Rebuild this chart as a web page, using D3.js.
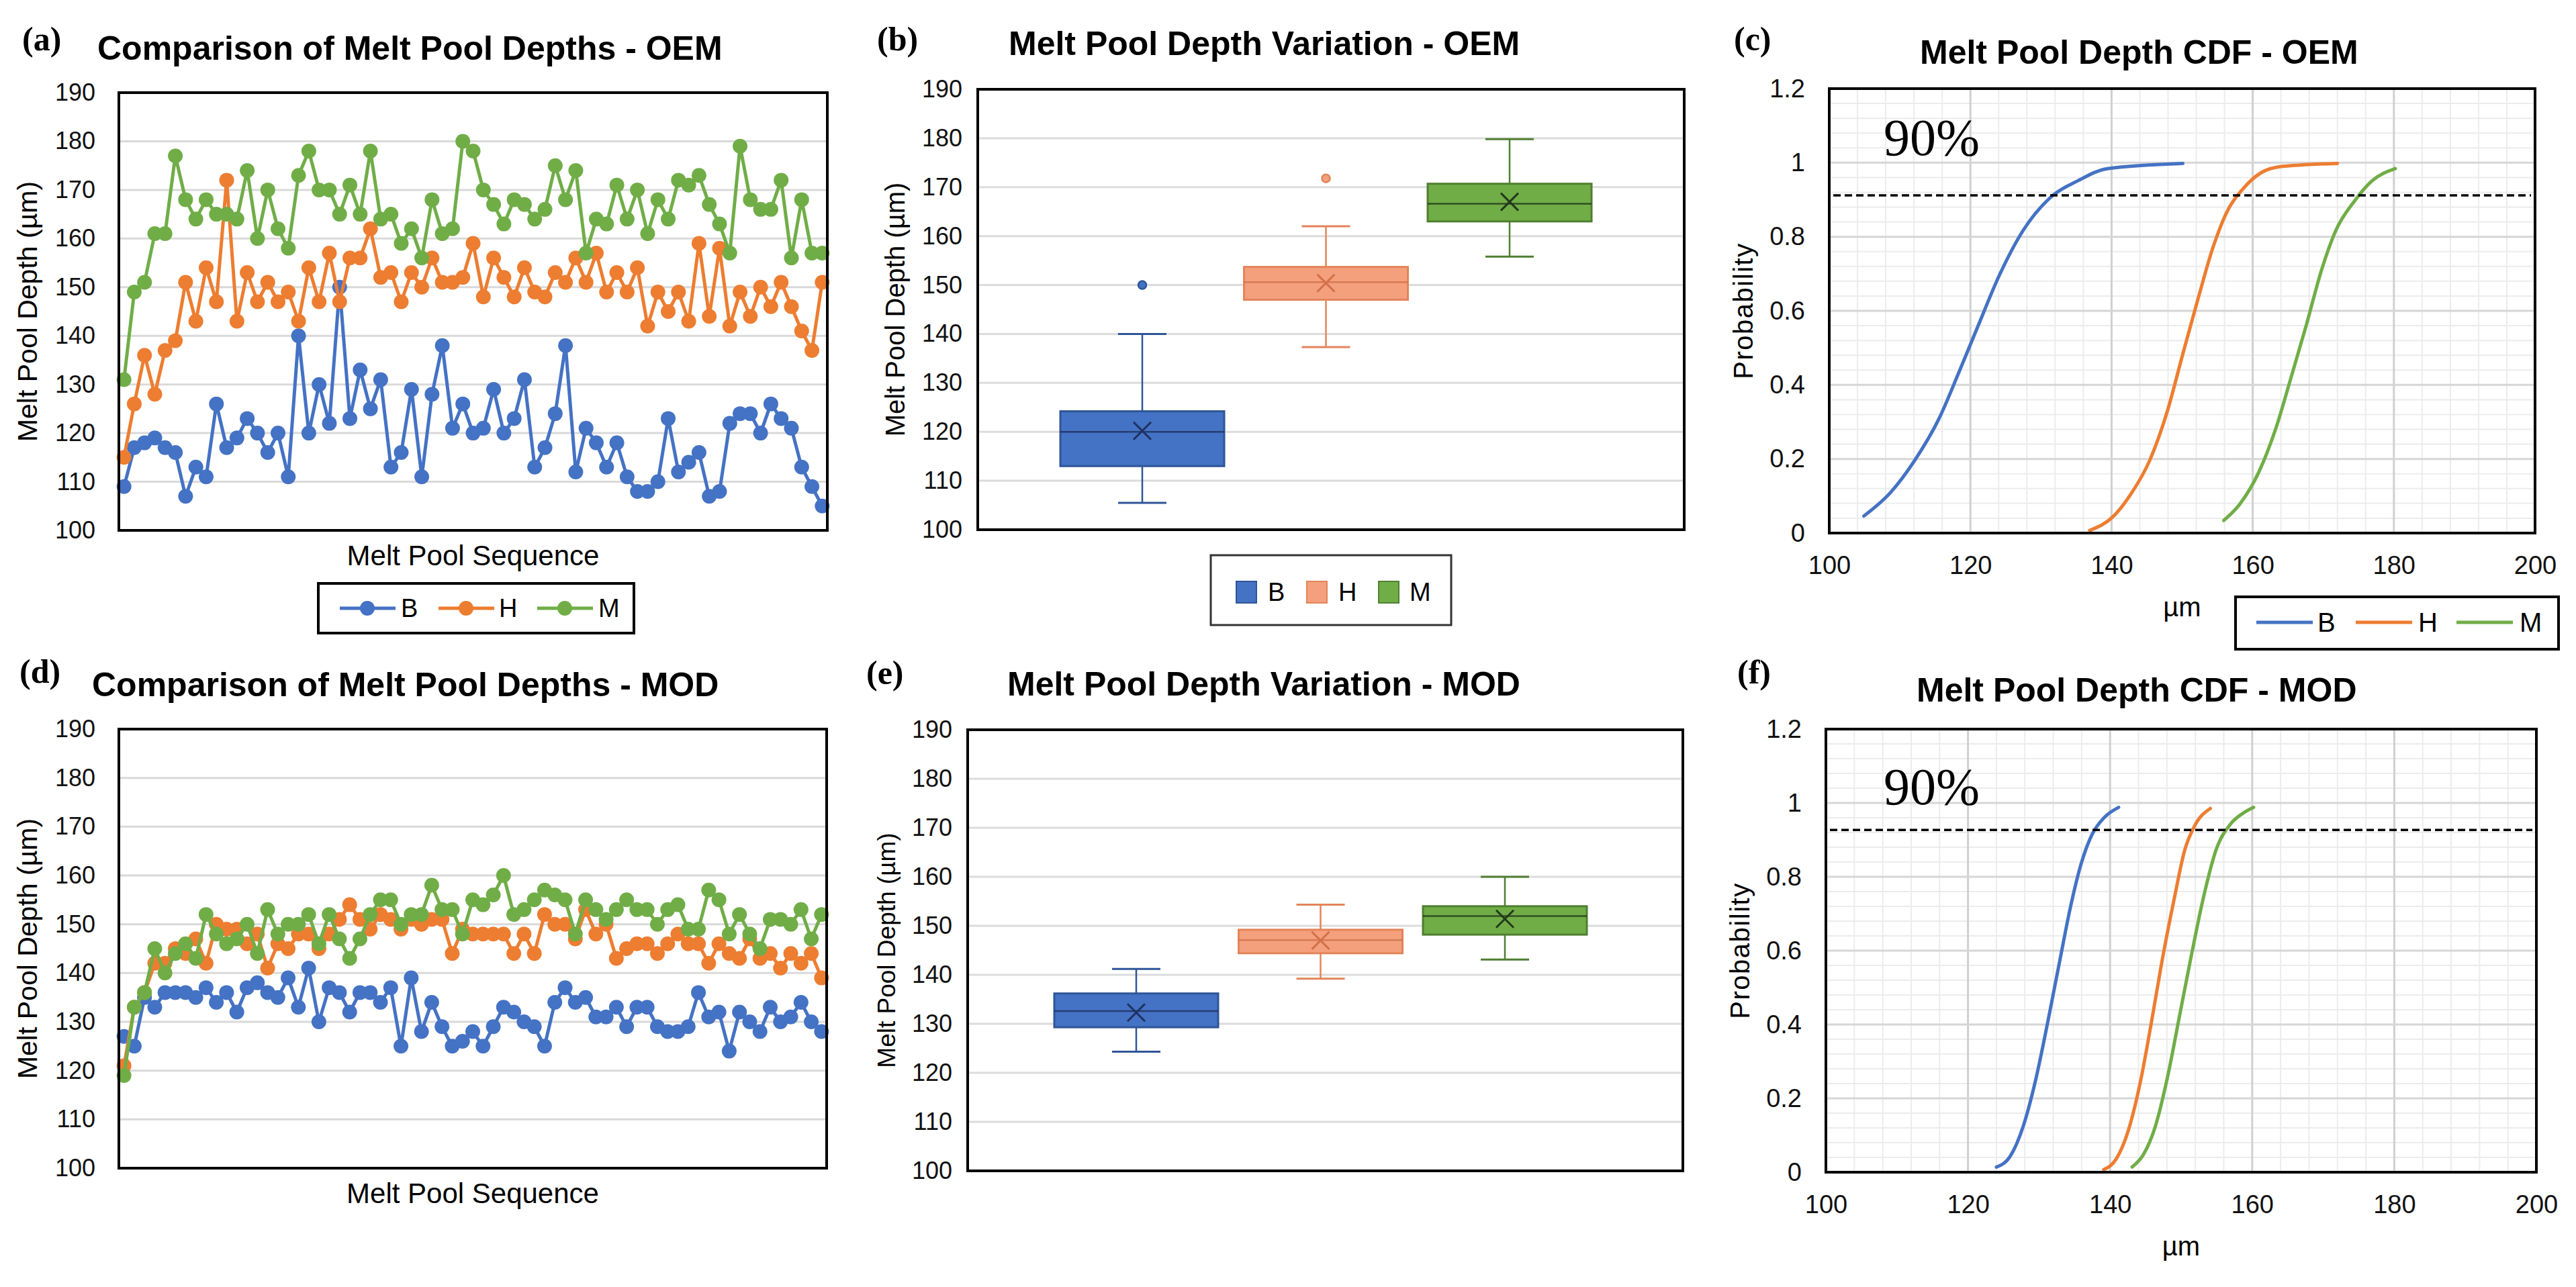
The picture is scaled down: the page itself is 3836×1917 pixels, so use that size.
<!DOCTYPE html>
<html><head><meta charset="utf-8">
<script src="https://cdn.jsdelivr.net/npm/d3@7"></script>
<style>body{margin:0;background:#fff}svg{display:block}</style>
</head><body><script>
// ---------------- DATA ----------------
const seriesNames = ["B", "H", "M"];
const depthTicks = [100, 110, 120, 130, 140, 150, 160, 170, 180, 190];
const cdfXTicks = [100, 120, 140, 160, 180, 200];
const cdfYTicks = [0, 0.2, 0.4, 0.6, 0.8, 1, 1.2];
const seqIndex = d3.range(69); // melt pool sequence positions (categories)

// (a) OEM melt pool depths
const oemB = [109,117,118,119,117,116,107,113,111,126,117,119,123,120,116,120,111,140,120,130,122,150,123,133,125,131,113,116,129,111,128,138,121,126,120,121,129,120,123,131,113,117,124,138,112,121,118,113,118,111,108,108,110,123,112,114,116,107,108,122,124,124,120,126,123,121,113,109,105];
const oemH = [115,126,136,128,137,139,151,143,154,147,172,143,153,147,151,147,149,143,154,147,157,147,156,156,162,152,153,147,153,150,156,151,151,152,159,148,156,152,148,154,149,148,153,151,156,151,157,149,153,149,154,142,149,145,149,143,159,144,158,142,149,144,150,146,151,146,141,137,151];
const oemM = [131,149,151,161,161,177,168,164,168,165,165,164,174,160,170,162,158,173,178,170,170,165,171,165,178,164,165,159,162,156,168,161,162,180,178,170,167,163,168,167,164,166,175,168,174,157,164,163,171,164,170,161,168,164,172,171,173,167,163,157,179,168,166,166,172,156,168,157,157];

// (d) MOD melt pool depths
const modB = [127,125,135,133,136,136,136,135,137,134,136,132,137,138,136,135,139,133,141,130,137,136,132,136,136,134,137,125,139,128,134,129,125,126,128,125,129,133,132,130,129,125,134,137,134,135,131,131,133,129,133,133,129,128,128,129,136,131,132,124,132,130,128,133,130,131,134,130,128];
const modH = [121,133,136,142,142,145,144,147,142,150,149,149,146,148,141,146,145,148,148,145,148,151,154,151,149,152,151,149,151,150,151,151,144,149,148,148,148,148,144,148,144,152,150,150,147,153,148,150,143,145,146,146,144,146,148,146,146,142,146,144,143,147,143,144,141,144,142,144,139];
const modM = [119,133,136,145,140,144,146,143,152,148,146,147,150,144,153,148,150,150,152,146,152,147,143,147,152,155,155,150,152,152,158,153,153,148,155,154,156,160,152,153,155,157,156,155,148,155,153,151,153,155,153,153,150,153,154,149,149,157,155,148,152,148,145,151,151,150,153,147,152];

// (b) OEM box statistics  [B, H, M]
const oemQ1 = [113, 147, 163];
const oemMedian = [120, 150.6, 166.6];
const oemQ3 = [124.2, 153.7, 170.7];
const oemMean = [120.2, 150.4, 167];
const oemLow = [105.5, 137.3, 155.8];
const oemHigh = [140, 162, 179.8];
const oemOutliers = [[150], [171.8], []];

// (e) MOD box statistics  [B, H, M]
const modQ1 = [129.3, 144.4, 148.2];
const modMedian = [132.6, 147.1, 152];
const modQ3 = [136.2, 149.2, 154];
const modMean = [132.3, 147, 151.4];
const modLow = [124.3, 139.2, 143.1];
const modHigh = [141.2, 154.3, 160];
const modOutliers = [[], [], []];

// (c) OEM CDF curves [depth µm, probability]
const cdfOemB = [[104.9,0.046],[108.7,0.11],[112.1,0.196],[115.5,0.307],[118.5,0.44],[121.1,0.56],[124.1,0.696],[127.5,0.818],[131.7,0.912],[135.2,0.951],[139.4,0.984],[150.1,0.998]];
const cdfOemH = [[136.9,0.007],[140.3,0.046],[142.8,0.107],[145.4,0.196],[147.9,0.329],[150.1,0.484],[152.2,0.629],[154.4,0.773],[156.5,0.873],[158.6,0.929],[161.2,0.973],[164.2,0.99],[172.0,0.998]];
const cdfOemM = [[155.9,0.034],[158.2,0.079],[160.8,0.162],[163.3,0.284],[165.4,0.418],[167.6,0.562],[169.7,0.707],[171.8,0.818],[174.4,0.896],[176.9,0.951],[180.2,0.984]];
// (f) MOD CDF curves
const cdfModB = [[124.0,0.014],[125.9,0.042],[127.8,0.126],[129.5,0.248],[131.2,0.404],[132.9,0.571],[134.4,0.716],[135.8,0.827],[137.5,0.916],[139.2,0.961],[141.2,0.988]];
const cdfModH = [[139.1,0.007],[140.9,0.037],[142.6,0.115],[144.3,0.248],[145.8,0.404],[147.3,0.571],[149.0,0.738],[150.5,0.872],[151.9,0.938],[154.1,0.985]];
const cdfModM = [[143.1,0.014],[144.7,0.048],[146.4,0.126],[148.1,0.259],[149.8,0.426],[151.5,0.593],[153.2,0.749],[154.9,0.872],[157.0,0.944],[158.7,0.972],[160.2,0.988]];
// 90% guide line levels as drawn
const guideOem = 0.912;
const guideMod = 0.927;

// ---------------- STYLE / LAYOUT ----------------
const W = 3836, H = 1917;
const FONT = "'Liberation Sans', Arial, sans-serif";
const SERIF = "'Liberation Serif', 'Times New Roman', serif";
const lineColors = ["#4472C4", "#ED7D31", "#70AD47"];
const boxFill = ["#4472C4", "#F4A07D", "#70AD47"];
const boxStroke = ["#2F5597", "#E3845A", "#4F7F31"];
const meanColor = ["#1F3060", "#D2714A", "#22381A"];

const svg = d3.select("body").append("svg").attr("width", W).attr("height", H)
  .style("background", "#fff");

const defs = svg.append("defs");
defs.append("filter").attr("id", "blur").attr("x", "-5%").attr("y", "-200%").attr("width", "110%").attr("height", "500%")
  .append("feGaussianBlur").attr("stdDeviation", 5);

function txt(x, y, s, size, o = {}) {
  return svg.append("text").attr("x", x).attr("y", y).text(s)
    .attr("font-family", o.family || FONT).attr("font-size", size)
    .attr("font-weight", o.weight || "normal").attr("text-anchor", o.anchor || "start")
    .attr("fill", o.fill || "#000").attr("letter-spacing", o.ls || 0);
}
function vtxt(cx, cy, s, size, o = {}) {
  return svg.append("text").attr("transform", `translate(${cx},${cy}) rotate(-90)`)
    .attr("text-anchor", "middle").attr("dominant-baseline", "central").text(s)
    .attr("font-family", FONT).attr("font-size", size).attr("fill", "#000")
    .attr("letter-spacing", o.ls || 0);
}
function frame(p, w) {
  svg.append("rect").attr("x", p.x0).attr("y", p.y0).attr("width", p.x1 - p.x0).attr("height", p.y1 - p.y0)
    .attr("fill", "none").attr("stroke", "#000").attr("stroke-width", w || 4);
}
function leftAxis(g, scale, ticks, xpos, size, fmt) {
  const ax = g.append("g").attr("transform", `translate(${xpos},0)`)
    .call(d3.axisLeft(scale).tickValues(ticks).tickSize(0).tickPadding(0).tickFormat(fmt || (d => d)));
  ax.select(".domain").remove();
  ax.selectAll("text").attr("font-size", size).attr("font-family", FONT).attr("fill", "#111");
}

// ---------------- LINE CHARTS (a), (d) ----------------
function drawLineChart(p, vals) {
  const g = svg.append("g");
  const x = d3.scalePoint().domain(seqIndex).range([p.x0, p.x1]).padding(0.5);
  const y = d3.scaleLinear().domain([100, 190]).range([p.y1, p.y0]);
  g.selectAll(null).data(depthTicks.filter(v => v > 100 && v < 190)).join("line")
    .attr("x1", p.x0).attr("x2", p.x1).attr("y1", d => y(d)).attr("y2", d => y(d))
    .attr("stroke", "#D9D9D9").attr("stroke-width", 3);
  leftAxis(g, y, depthTicks, p.x0 - 35, 36);
  vals.forEach((arr, k) => {
    g.append("path").datum(arr)
      .attr("d", d3.line().x((d, i) => x(seqIndex[i])).y(d => y(d)))
      .attr("fill", "none").attr("stroke", lineColors[k]).attr("stroke-width", 5).attr("stroke-linejoin", "round");
    g.selectAll(null).data(arr).join("circle")
      .attr("cx", (d, i) => x(seqIndex[i])).attr("cy", d => y(d)).attr("r", 11).attr("fill", lineColors[k]);
  });
  frame(p, 4);
  vtxt(41, (p.y0 + p.y1) / 2, "Melt Pool Depth (µm)", 41);
  txt((p.x0 + p.x1) / 2, p.y1 + 52, "Melt Pool Sequence", 42, { anchor: "middle" });
}

const PA = { x0: 177, x1: 1232, y0: 138, y1: 790 };
const PD = { x0: 177, x1: 1231, y0: 1086, y1: 1740 };
drawLineChart(PA, [oemB, oemH, oemM]);
drawLineChart(PD, [modB, modH, modM]);

// legend (a)
svg.append("rect").attr("x", 474).attr("y", 869).attr("width", 470).attr("height", 74)
  .attr("fill", "#fff").attr("stroke", "#000").attr("stroke-width", 4);
[[506, 597], [653, 743], [800, 891]].forEach((pos, k) => {
  svg.append("line").attr("x1", pos[0]).attr("x2", pos[0] + 83).attr("y1", 906).attr("y2", 906)
    .attr("stroke", lineColors[k]).attr("stroke-width", 5);
  svg.append("circle").attr("cx", pos[0] + 41).attr("cy", 906).attr("r", 11).attr("fill", lineColors[k]);
  txt(pos[1], 919, seriesNames[k], 38);
});

// ---------------- BOX PLOTS (b), (e) ----------------
function drawBox(p, st) {
  const g = svg.append("g");
  const y = d3.scaleLinear().domain([100, 190]).range([p.y1, p.y0]);
  const x = d3.scalePoint().domain(seriesNames).range([p.c0, p.c1]);
  const bw = 244, cap = 36, mx = 13;
  g.selectAll(null).data(depthTicks.filter(v => v > 100 && v < 190)).join("line")
    .attr("x1", p.x0).attr("x2", p.x1).attr("y1", d => y(d)).attr("y2", d => y(d))
    .attr("stroke", "#DCDCDC").attr("stroke-width", 3);
  leftAxis(g, y, depthTicks, p.x0 - 23, 36);
  seriesNames.forEach((s, k) => {
    const cx = x(s);
    [[st.lo[k], st.q1[k]], [st.q3[k], st.hi[k]]].forEach(([a, b]) => {
      g.append("line").attr("x1", cx).attr("x2", cx).attr("y1", y(a)).attr("y2", y(b))
        .attr("stroke", boxStroke[k]).attr("stroke-width", 2.5);
    });
    [st.lo[k], st.hi[k]].forEach(v => {
      g.append("line").attr("x1", cx - cap).attr("x2", cx + cap).attr("y1", y(v)).attr("y2", y(v))
        .attr("stroke", boxStroke[k]).attr("stroke-width", 3);
    });
    g.append("rect").attr("x", cx - bw / 2).attr("y", y(st.q3[k])).attr("width", bw)
      .attr("height", y(st.q1[k]) - y(st.q3[k])).attr("fill", boxFill[k])
      .attr("stroke", boxStroke[k]).attr("stroke-width", 3);
    g.append("line").attr("x1", cx - bw / 2).attr("x2", cx + bw / 2)
      .attr("y1", y(st.med[k])).attr("y2", y(st.med[k])).attr("stroke", meanColor[k]).attr("stroke-width", 2.5)
      .attr("opacity", 0.8);
    const my = y(st.mean[k]);
    g.append("path").attr("d", `M${cx - mx},${my - mx}L${cx + mx},${my + mx}M${cx - mx},${my + mx}L${cx + mx},${my - mx}`)
      .attr("stroke", meanColor[k]).attr("stroke-width", 3).attr("fill", "none");
    g.selectAll(null).data(st.out[k]).join("circle").attr("cx", cx).attr("cy", d => y(d)).attr("r", 6)
      .attr("fill", boxFill[k]).attr("stroke", boxStroke[k]).attr("stroke-width", 2.5);
  });
  frame(p, 4);
}
const PB = { x0: 1456, x1: 2508, y0: 133, y1: 789, c0: 1701, c1: 2248 };
const PE = { x0: 1441, x1: 2506, y0: 1087, y1: 1744, c0: 1692, c1: 2241 };
drawBox(PB, { q1: oemQ1, med: oemMedian, q3: oemQ3, mean: oemMean, lo: oemLow, hi: oemHigh, out: oemOutliers });
drawBox(PE, { q1: modQ1, med: modMedian, q3: modQ3, mean: modMean, lo: modLow, hi: modHigh, out: modOutliers });
vtxt(1333, (PB.y0 + PB.y1) / 2, "Melt Pool Depth (µm)", 40);
vtxt(1320, (PE.y0 + PE.y1) / 2, "Melt Pool Depth (µm)", 37);

// legend (b)
svg.append("rect").attr("x", 1803).attr("y", 827).attr("width", 358).attr("height", 104)
  .attr("fill", "#fff").attr("stroke", "#333").attr("stroke-width", 3);
[[1841, 1888], [1946, 1993], [2053, 2099]].forEach((pos, k) => {
  svg.append("rect").attr("x", pos[0]).attr("y", 866).attr("width", 30).attr("height", 32)
    .attr("fill", boxFill[k]).attr("stroke", boxStroke[k]).attr("stroke-width", 2);
  txt(pos[1], 895, seriesNames[k], 38);
});

// ---------------- CDF CHARTS (c), (f) ----------------
function drawCdf(p, curves, guide, labelLift) {
  const g = svg.append("g");
  const x = d3.scaleLinear().domain([100, 200]).range([p.x0, p.x1]);
  const y = d3.scaleLinear().domain([0, 1.2]).range([p.y1, p.y0]);
  const minorX = d3.range(104, 200, 4).filter(v => v % 20 !== 0);
  const minorY = d3.range(1, 30).map(i => i * 0.04).filter(v => Math.abs(v / 0.2 - Math.round(v / 0.2)) > 1e-6);
  g.selectAll(null).data(minorX).join("line").attr("x1", d => x(d)).attr("x2", d => x(d))
    .attr("y1", p.y0).attr("y2", p.y1).attr("stroke", "#ECECEC").attr("stroke-width", 2);
  g.selectAll(null).data(minorY).join("line").attr("y1", d => y(d)).attr("y2", d => y(d))
    .attr("x1", p.x0).attr("x2", p.x1).attr("stroke", "#ECECEC").attr("stroke-width", 2);
  g.selectAll(null).data(cdfXTicks.slice(1, -1)).join("line").attr("x1", d => x(d)).attr("x2", d => x(d))
    .attr("y1", p.y0).attr("y2", p.y1).attr("stroke", "#D0D0D0").attr("stroke-width", 3);
  g.selectAll(null).data(cdfYTicks.slice(1, -1)).join("line").attr("y1", d => y(d)).attr("y2", d => y(d))
    .attr("x1", p.x0).attr("x2", p.x1).attr("stroke", "#D6D6D6").attr("stroke-width", 3);
  leftAxis(g, y, cdfYTicks, p.x0 - 36, 38, d => String(+d.toFixed(1)));
  const xa = g.append("g").attr("transform", `translate(0,${p.y1 + 50})`)
    .call(d3.axisBottom(x).tickValues(cdfXTicks).tickSize(0).tickPadding(0));
  xa.select(".domain").remove();
  xa.selectAll("text").attr("font-size", 38).attr("font-family", FONT).attr("fill", "#111").attr("dy", "0.3em");
  curves.forEach((c, k) => {
    g.append("path").datum(c).attr("d", d3.line().x(d => x(d[0])).y(d => y(d[1])).curve(d3.curveMonotoneX))
      .attr("fill", "none").attr("stroke", lineColors[k]).attr("stroke-width", 5).attr("stroke-linecap", "round");
  });
  g.append("line").attr("x1", p.x0 + 6).attr("x2", p.x1 - 6).attr("y1", y(guide) + 12).attr("y2", y(guide) + 12)
    .attr("stroke", "#9a9a9a").attr("stroke-width", 14).attr("opacity", 0.35).attr("filter", "url(#blur)");
  g.append("line").attr("x1", p.x0 + 6).attr("x2", p.x1 - 6).attr("y1", y(guide)).attr("y2", y(guide))
    .attr("stroke", "#000").attr("stroke-width", 3.5).attr("stroke-dasharray", "11,6");
  frame(p, 4);
  txt(2805, y(guide) - labelLift, "90%", 78, { family: SERIF });
  vtxt(p.x0 - 128, (p.y0 + p.y1) / 2, "Probability", 40, { ls: 1.5 });
  txt((p.x0 + p.x1) / 2, p.y1 + 124, "µm", 40, { anchor: "middle" });
}
const PC = { x0: 2724, x1: 3775, y0: 132, y1: 794 };
const PF = { x0: 2719, x1: 3777, y0: 1086, y1: 1746 };
drawCdf(PC, [cdfOemB, cdfOemH, cdfOemM], guideOem, 60);
drawCdf(PF, [cdfModB, cdfModH, cdfModM], guideMod, 38);

// legend (c)
svg.append("rect").attr("x", 3329).attr("y", 889).attr("width", 481).attr("height", 78)
  .attr("fill", "#fff").attr("stroke", "#000").attr("stroke-width", 4);
[[3360, 3451], [3508, 3601], [3658, 3752]].forEach((pos, k) => {
  svg.append("line").attr("x1", pos[0]).attr("x2", pos[0] + 84).attr("y1", 927).attr("y2", 927)
    .attr("stroke", lineColors[k]).attr("stroke-width", 5);
  txt(pos[1], 941, seriesNames[k], 40);
});

// ---------------- TITLES & PANEL LABELS ----------------
const titles = [
  [145, 89, "Comparison of Melt Pool Depths - OEM"],
  [1502, 82, "Melt Pool Depth Variation - OEM"],
  [2859, 95, "Melt Pool Depth CDF - OEM"],
  [137, 1037, "Comparison of Melt Pool Depths - MOD"],
  [1500, 1036, "Melt Pool Depth Variation - MOD"],
  [2854, 1045, "Melt Pool Depth CDF - MOD"]
];
titles.forEach(t => txt(t[0], t[1], t[2], 50, { weight: "bold" }));
const panelLabels = [
  [33, 75, "(a)"], [1306, 75, "(b)"], [2582, 75, "(c)"],
  [29, 1017, "(d)"], [1290, 1019, "(e)"], [2587, 1018, "(f)"]
];
panelLabels.forEach(t => txt(t[0], t[1], t[2], 50, { family: SERIF, weight: "bold" }));
</script></body></html>
